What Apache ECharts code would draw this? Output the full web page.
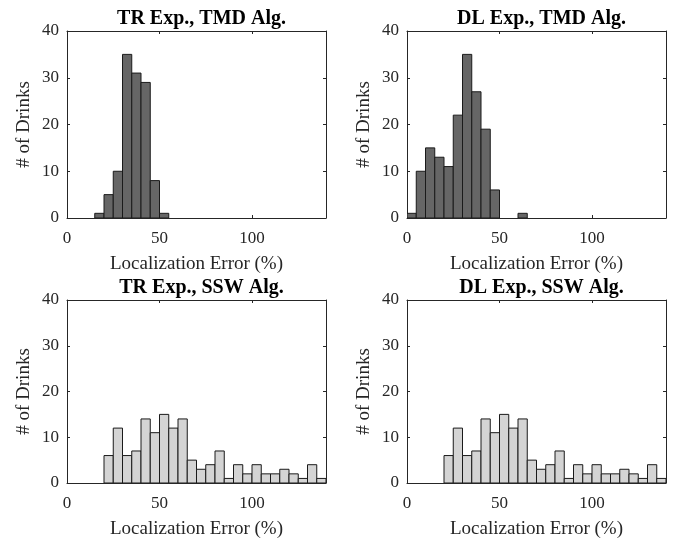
<!DOCTYPE html>
<html>
<head>
<meta charset="utf-8">
<script src="https://cdn.jsdelivr.net/npm/echarts@6/dist/echarts.min.js"></script>
<style>
html,body{margin:0;padding:0;background:#fff;}
#chart{width:673px;height:540px;}
</style>
</head>
<body>
<div id="chart"></div>
<script>
// ---- Data ----
const panelTitles = ['TR Exp., TMD Alg.', 'DL Exp., TMD Alg.', 'TR Exp., SSW Alg.', 'DL Exp., SSW Alg.'];
const binWidth = 5;
const xTickLabels = [0, 50, 100];
const yTickLabels = [0, 10, 20, 30, 40];

const trTmdBinStarts = [15, 20, 25, 30, 35, 40, 45, 50];
const trTmdCounts    = [1, 5, 10, 35, 31, 29, 8, 1];

const dlTmdBinStarts = [0, 5, 10, 15, 20, 25, 30, 35, 40, 45, 50, 55, 60];
const dlTmdCounts    = [1, 10, 15, 13, 11, 22, 35, 27, 19, 6, 0, 0, 1];

const trSswBinStarts = [20, 25, 30, 35, 40, 45, 50, 55, 60, 65, 70, 75, 80, 85, 90, 95, 100, 105, 110, 115, 120, 125, 130, 135];
const trSswCounts    = [6, 12, 6, 7, 14, 11, 15, 12, 14, 5, 3, 4, 7, 1, 4, 2, 4, 2, 2, 3, 2, 1, 4, 1];

const dlSswBinStarts = [20, 25, 30, 35, 40, 45, 50, 55, 60, 65, 70, 75, 80, 85, 90, 95, 100, 105, 110, 115, 120, 125, 130, 135];
const dlSswCounts    = [6, 12, 6, 7, 14, 11, 15, 12, 14, 5, 3, 4, 7, 1, 4, 2, 4, 2, 2, 3, 2, 1, 4, 1];

// ---- Styles / layout ----
const FONT = "'Liberation Serif', 'Times New Roman', serif";
const AX = '#262626';
const panels = [
  {starts: trTmdBinStarts, counts: trTmdCounts, fill: '#666666', left: 67, top: 31, height: 187},
  {starts: dlTmdBinStarts, counts: dlTmdCounts, fill: '#666666', left: 407, top: 31, height: 187},
  {starts: trSswBinStarts, counts: trSswCounts, fill: '#d4d4d4', left: 67, top: 300, height: 188},
  {starts: dlSswBinStarts, counts: dlSswCounts, fill: '#d4d4d4', left: 407, top: 300, height: 188}
];
const gridW = 259;

const grids = [], xAxes = [], yAxes = [], series = [], titles = [];
panels.forEach((p, i) => {
  grids.push({left: p.left, top: p.top, width: gridW, height: p.height, containLabel: false});
  titles.push({
    text: panelTitles[i], left: p.left + gridW / 2, top: p.top - 27, textAlign: 'center',
    textStyle: {fontFamily: FONT, fontSize: 20, fontWeight: 'bold', color: '#000'}
  });
  const common = {
    type: 'value', gridIndex: i, min: 0, max: 140, interval: 50,
    axisLine: {show: true, onZero: false, lineStyle: {color: AX, width: 1}},
    axisTick: {show: true, inside: true, length: 3, lineStyle: {color: AX}},
    splitLine: {show: false}
  };
  xAxes.push(Object.assign({}, common, {
    position: 'bottom',
    name: 'Localization Error (%)', nameLocation: 'middle', nameGap: 37,
    nameTextStyle: {fontFamily: FONT, fontSize: 19, color: AX},
    axisLabel: {fontFamily: FONT, fontSize: 17, color: AX, margin: 12,
      formatter: v => xTickLabels.includes(v) ? String(v) : ''}
  }));
  xAxes.push(Object.assign({}, common, {position: 'top', axisLabel: {show: false}}));
  const ycommon = {
    type: 'value', gridIndex: i, min: 0, max: 40, interval: 10,
    axisLine: {show: true, onZero: false, lineStyle: {color: AX, width: 1}},
    axisTick: {show: true, inside: true, length: 3, lineStyle: {color: AX}},
    splitLine: {show: false}
  };
  yAxes.push(Object.assign({}, ycommon, {
    position: 'left',
    name: '# of Drinks', nameLocation: 'middle', nameGap: 33,
    nameTextStyle: {fontFamily: FONT, fontSize: 19, color: AX},
    axisLabel: {fontFamily: FONT, fontSize: 17, color: AX, margin: 8,
      formatter: v => yTickLabels.includes(v) ? String(v) : ''}
  }));
  yAxes.push(Object.assign({}, ycommon, {position: 'right', axisLabel: {show: false}}));

  const data = [];
  p.starts.forEach((s, k) => { if (p.counts[k] > 0) data.push([s, p.counts[k]]); });
  series.push({
    type: 'custom',
    xAxisIndex: i * 2, yAxisIndex: i * 2,
    clip: true,
    encode: {x: 0, y: 1},
    data: data,
    renderItem: (params, api) => {
      const x0 = api.value(0), h = api.value(1);
      const a = api.coord([x0, 0]);
      const b = api.coord([x0 + binWidth, h]);
      return {
        type: 'rect',
        shape: {x: a[0], y: b[1], width: b[0] - a[0], height: a[1] - b[1]},
        style: {fill: p.fill, stroke: '#1a1a1a', lineWidth: 1}
      };
    }
  });
});

const chart = echarts.init(document.getElementById('chart'), null, {renderer: 'canvas'});
chart.setOption({
  animation: false,
  backgroundColor: '#ffffff',
  title: titles,
  grid: grids,
  xAxis: xAxes,
  yAxis: yAxes,
  series: series
});
</script>
</body>
</html>
